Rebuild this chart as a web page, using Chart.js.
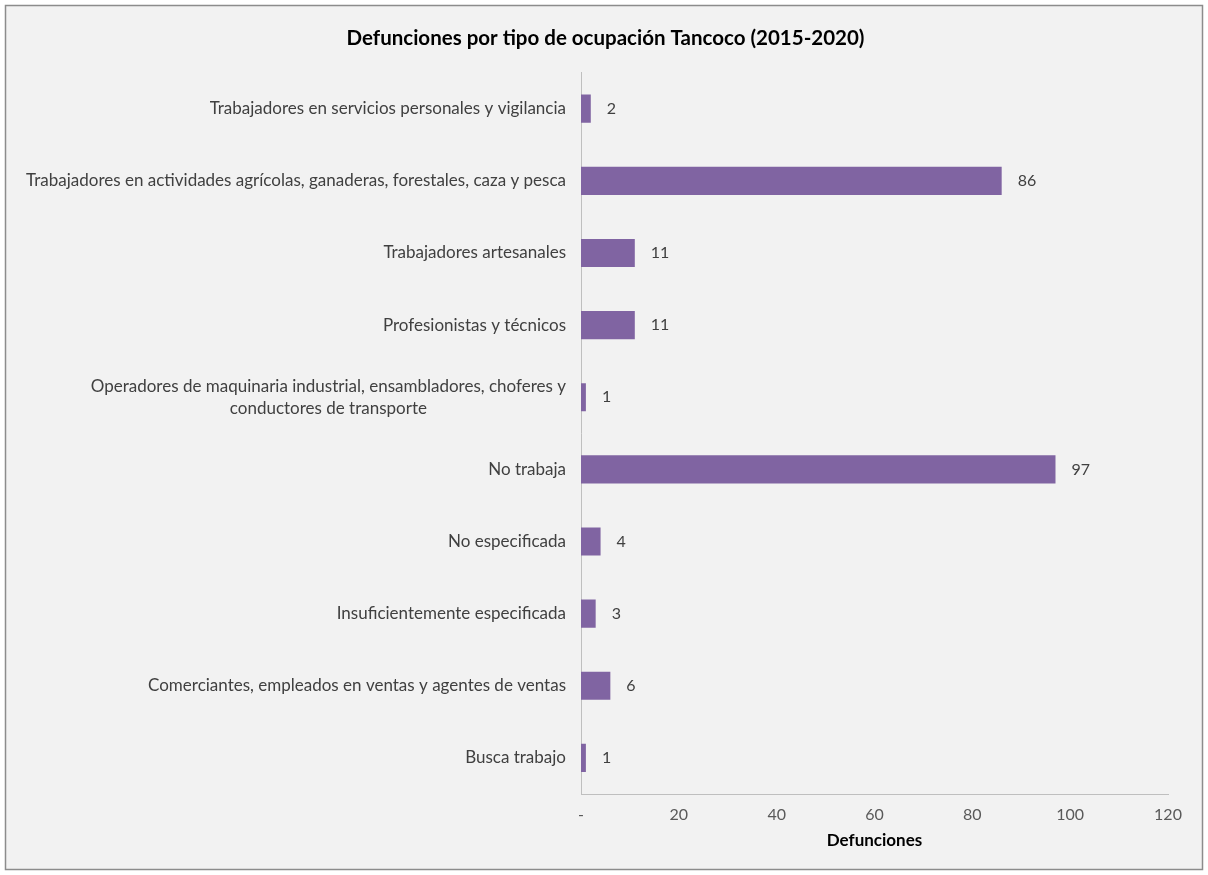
<!DOCTYPE html>
<html>
<head>
<meta charset="utf-8">
<script src="https://cdn.jsdelivr.net/npm/chart.js@4"></script>
<style>
  body { margin: 0; background: #ffffff; }
  #wrap { position: absolute; left: 0; top: 0; width: 1208px; height: 875px; }
</style>
</head>
<body>
<div id="wrap"><canvas id="chart" width="1208" height="875"></canvas></div>
<script>
  // Data (top to bottom).
  const categories = [
    "Trabajadores en servicios personales y vigilancia",
    "Trabajadores en actividades agrícolas, ganaderas, forestales, caza y pesca",
    "Trabajadores artesanales",
    "Profesionistas y técnicos",
    ["Operadores de maquinaria industrial, ensambladores, choferes y", "conductores de transporte"],
    "No trabaja",
    "No especificada",
    "Insuficientemente especificada",
    "Comerciantes, empleados en ventas y agentes de ventas",
    "Busca trabajo"
  ];
  const defunciones = [2, 86, 11, 11, 1, 97, 4, 3, 6, 1];
  const xTicks = [0, 20, 40, 60, 80, 100, 120];

  const FONT = "Lato, 'Open Sans', sans-serif";
  const TEXT = "#404040";

  // Background panel with thin gray frame, like the spreadsheet chart area.
  const framePlugin = {
    id: "frame",
    beforeDraw(chart) {
      const ctx = chart.ctx;
      ctx.save();
      ctx.fillStyle = "#ffffff";
      ctx.fillRect(0, 0, chart.width, chart.height);
      ctx.fillStyle = "#f2f2f2";
      ctx.fillRect(5, 5, chart.width - 10, chart.height - 10);
      ctx.strokeStyle = "#8c8c8c";
      ctx.lineWidth = 1.5;
      ctx.strokeRect(5.5, 5.5, chart.width - 11, chart.height - 11);
      ctx.restore();
    }
  };

  // Y labels: single lines right-aligned, wrapped lines centred on their block.
  const yLabelPlugin = {
    id: "yLabels",
    afterDraw(chart) {
      const scale = chart.scales.y;
      const ctx = chart.ctx;
      ctx.save();
      ctx.font = "17px " + FONT;
      ctx.fillStyle = TEXT;
      ctx.textAlign = "center";
      ctx.textBaseline = "middle";
      const right = scale.right - 15;
      const lh = 22;
      categories.forEach((lab, i) => {
        const lines = Array.isArray(lab) ? lab : [lab];
        const w = Math.max(...lines.map(l => ctx.measureText(l).width));
        const y = scale.getPixelForTick(i);
        const y0 = y - (lines.length - 1) * lh / 2;
        lines.forEach((l, j) => ctx.fillText(l, right - w / 2, y0 + j * lh));
      });
      ctx.restore();
    }
  };

  // Value labels just past the end of each bar.
  const valuePlugin = {
    id: "values",
    afterDatasetsDraw(chart) {
      const ctx = chart.ctx;
      const meta = chart.getDatasetMeta(0);
      ctx.save();
      ctx.font = "16px " + FONT;
      ctx.fillStyle = TEXT;
      ctx.textAlign = "left";
      ctx.textBaseline = "middle";
      meta.data.forEach((bar, i) => {
        ctx.fillText(String(defunciones[i]), bar.x + 16, bar.y);
      });
      ctx.restore();
    }
  };

  new Chart(document.getElementById("chart").getContext("2d"), {
    type: "bar",
    data: {
      labels: categories,
      datasets: [{
        data: defunciones,
        backgroundColor: "#8064a2",
        borderWidth: 0,
        barPercentage: 0.39,
        categoryPercentage: 1
      }]
    },
    options: {
      indexAxis: "y",
      responsive: false,
      animation: false,
      layout: { padding: { left: 43, right: 40, top: 0, bottom: 21 } },
      plugins: {
        legend: { display: false },
        tooltip: { enabled: false },
        title: {
          display: true,
          text: "Defunciones por tipo de ocupación Tancoco (2015-2020)",
          color: "#000000",
          font: { family: FONT, size: 20.5, weight: "bold" },
          padding: { top: 26, bottom: 22 }
        }
      },
      scales: {
        x: {
          min: 0,
          max: 120,
          afterBuildTicks(scale) { scale.ticks = xTicks.map(v => ({ value: v })); },
          afterFit(scale) { scale.height = 60; },
          grid: { display: false, drawTicks: false },
          border: { display: true, color: "#bfbfbf", width: 1 },
          ticks: {
            padding: 11,
            color: "#595959",
            font: { family: FONT, size: 16 },
            callback: v => (v === 0 ? "-" : v)
          },
          title: {
            display: true,
            text: "Defunciones",
            color: "#000000",
            font: { family: FONT, size: 17, weight: "bold" },
            padding: { top: 0, bottom: 3 }
          }
        },
        y: {
          afterFit(scale) { scale.width = 538; },
          grid: { display: false, drawTicks: false },
          border: { display: true, color: "#bfbfbf", width: 1 },
          ticks: { color: "rgba(0,0,0,0)", font: { family: FONT, size: 14 } }
        }
      }
    },
    plugins: [framePlugin, yLabelPlugin, valuePlugin]
  });
</script>
</body>
</html>
